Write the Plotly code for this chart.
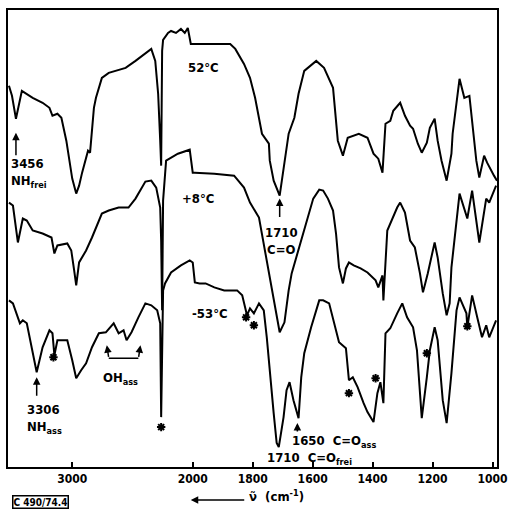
import numpy as np
import plotly.graph_objects as go

# ---------------- data (wavenumber in cm-1, transmission in arbitrary units) ----------------
wn_52 = [3525, 3500, 3467, 3443, 3418, 3328, 3246, 3189, 3164, 3123, 3090, 3049, 3025, 3000, 2967,
         2943, 2918, 2885, 2869, 2852, 2844, 2820, 2803, 2754, 2697, 2639, 2557, 2475, 2393, 2344,
         2311, 2287, 2270, 2262, 2254, 2246, 2205, 2180, 2139, 2098, 2066, 2041, 2016, 1984, 1928,
         1875, 1858, 1829, 1809, 1792, 1769, 1746, 1743, 1730, 1710, 1694, 1680, 1661, 1647, 1628,
         1588, 1562, 1532, 1516, 1499, 1483, 1463, 1446, 1417, 1397, 1381, 1367, 1357, 1341, 1331,
         1308, 1292, 1275, 1265, 1249, 1236, 1219, 1209, 1193, 1183, 1170, 1153, 1137, 1133, 1110,
         1094, 1077, 1054, 1044, 1028, 1018, 995, 985]
t_52 = [382, 372, 349, 362, 377, 370, 365, 360, 352, 354, 350, 327, 307, 289, 274,
        282, 295, 309, 317, 315, 327, 360, 370, 390, 395, 397, 400, 407, 415, 419,
        407, 374, 327, 302, 417, 428, 435, 437, 435, 439, 435, 440, 424, 424, 424,
        424, 419, 404, 390, 370, 334, 324, 307, 287, 272, 307, 334, 350, 374, 397,
        407, 400, 380, 327, 312, 330, 332, 334, 330, 314, 309, 295, 344, 347, 357,
        365, 352, 342, 339, 324, 315, 325, 340, 349, 327, 307, 287, 314, 334, 389,
        370, 372, 307, 290, 312, 305, 292, 287]

wn_8 = [3525, 3492, 3451, 3410, 3377, 3328, 3246, 3172, 3148, 3123, 3041, 3008, 2984, 2967, 2943,
        2885, 2836, 2803, 2754, 2697, 2615, 2533, 2475, 2393, 2344, 2303, 2270, 2262, 2254, 2246,
        2230, 2221, 2123, 2025, 2000, 1993, 1928, 1862, 1829, 1809, 1779, 1759, 1746, 1730, 1710,
        1694, 1680, 1670, 1638, 1614, 1598, 1578, 1565, 1549, 1532, 1522, 1512, 1499, 1489, 1479,
        1463, 1440, 1417, 1390, 1381, 1367, 1364, 1351, 1318, 1308, 1292, 1275, 1259, 1242, 1232,
        1216, 1193, 1183, 1166, 1153, 1143, 1137, 1110, 1084, 1068, 1044, 1021, 1011, 988]
t_8 = [265, 262, 225, 249, 247, 237, 234, 230, 214, 222, 224, 217, 197, 182, 205,
       217, 230, 240, 254, 257, 260, 260, 269, 286, 287, 280, 260, 227, 157, 267,
       300, 307, 314, 318, 295, 295, 294, 292, 280, 265, 250, 217, 194, 167, 135,
       145, 177, 194, 227, 254, 269, 278, 277, 269, 257, 234, 200, 184, 199, 205,
       202, 199, 195, 187, 180, 192, 167, 237, 260, 265, 255, 227, 220, 194, 175,
       194, 225, 210, 174, 152, 164, 200, 274, 249, 277, 225, 269, 265, 282]

wn_m53 = [3525, 3492, 3434, 3410, 3377, 3295, 3246, 3189, 3164, 3148, 3123, 3041, 3000, 2967, 2926,
          2885, 2836, 2779, 2721, 2656, 2615, 2574, 2549, 2508, 2451, 2393, 2344, 2295, 2270, 2262,
          2246, 2230, 2180, 2098, 2025, 2000, 1993, 1977, 1957, 1928, 1895, 1852, 1835, 1825, 1819,
          1809, 1796, 1779, 1763, 1753, 1743, 1730, 1720, 1713, 1697, 1687, 1677, 1664, 1647, 1638,
          1628, 1605, 1578, 1565, 1545, 1529, 1512, 1489, 1479, 1466, 1450, 1430, 1417, 1397, 1384,
          1374, 1364, 1357, 1341, 1318, 1301, 1285, 1265, 1252, 1242, 1236, 1219, 1209, 1193, 1183,
          1166, 1153, 1137, 1120, 1110, 1087, 1084, 1068, 1051, 1035, 1021, 1011, 988]
t_m53 = [167, 164, 144, 147, 144, 95, 120, 137, 134, 112, 127, 127, 107, 89, 97,
         104, 120, 134, 135, 144, 134, 137, 127, 135, 150, 164, 162, 157, 144, 50,
         177, 184, 195, 202, 207, 205, 185, 184, 184, 180, 177, 177, 172, 160, 152,
         159, 154, 164, 157, 130, 94, 54, 24, 20, 50, 77, 85, 67, 49, 90,
         114, 140, 167, 167, 164, 144, 125, 119, 87, 90, 80, 64, 55, 45, 74,
         85, 64, 134, 139, 154, 164, 150, 140, 117, 74, 49, 90, 117, 140, 127,
         67, 44, 94, 157, 170, 154, 140, 172, 150, 130, 142, 130, 147]

# bands marked with an asterisk in the -53 °C spectrum
star_wn = [3156, 2262, 1822, 1796, 1479, 1390, 1219, 1084]
star_t = [110, 40, 150, 142, 74, 89, 114, 141]

tick_wn = [3000, 2000, 1800, 1600, 1400, 1200, 1000]
tick_text = ["3000", "2000", "1800", "1600", "1400", "1200", "1000"]

# ---------------- axis transform (scale change at 2000 cm-1) ----------------
RATIO = 0.402


def xpos(wn):
    wn = np.asarray(wn, dtype=float)
    return np.where(wn >= 2000, (2000 - wn) * RATIO, 2000 - wn)


def xp(wn):
    return float(xpos(wn))


FONT = "DejaVu Sans Condensed, Liberation Sans Narrow, Arial Narrow, sans-serif"
LINE = dict(color="black", width=2)

fig = go.Figure()
for w, t in [(wn_52, t_52), (wn_8, t_8), (wn_m53, t_m53)]:
    fig.add_trace(go.Scatter(x=xpos(w), y=t, mode="lines", line=LINE, hoverinfo="skip"))

fig.add_trace(go.Scatter(x=xpos(star_wn), y=star_t, mode="markers",
                         marker=dict(symbol="asterisk-open", size=7, color="black",
                                     line=dict(color="black", width=2)),
                         hoverinfo="skip"))

ann = []


def text(x, y, s, xanchor="center", yanchor="middle", size=13, **kw):
    ann.append(dict(x=x, y=y, text=s, showarrow=False, xanchor=xanchor, yanchor=yanchor,
                    font=dict(family=FONT, size=size, color="black", weight="bold"), **kw))


def arrow(x, y, ax, ay):
    ann.append(dict(x=x, y=y, text="", showarrow=True, ax=ax, ay=ay, arrowhead=2,
                    arrowsize=1, arrowwidth=1.5, arrowcolor="black"))


text(xp(1964), 400, "52°C")
text(xp(1984), 269, "+8°C")
text(xp(1941), 154, "-53°C")

text(xp(3525), 314, "3456<br>NH<sub>frei</sub>", xanchor="left", yanchor="top", align="left")
arrow(xp(3467), 335, 0, 24)

text(xp(1703), 245, "1710<br>C=O", yanchor="top")
arrow(xp(1710), 269, 0, 20)

text(xp(3393), 67, "3306<br>NH<sub>ass</sub>", xanchor="left", yanchor="top", align="left")
arrow(xp(3295), 90, 0, 20)

text(xp(2762), 99, "OH<sub>ass</sub>", xanchor="left", yanchor="top")
arrow(xp(2713), 122, 2, 13)
arrow(xp(2434), 122, -2, 13)

text(xp(1677), 26, "1650  C=O<sub>ass</sub>", xanchor="left")
arrow(xp(1651), 44, 0, 10)
text(xp(1759), 9, "1710  C=O<sub>frei</sub>", xanchor="left")

# bottom labels (paper coordinates)
ann.append(dict(xref="paper", yref="paper", x=0.008, y=-0.0764, text="C 490/74.4",
                showarrow=False, xanchor="left", yanchor="middle",
                font=dict(family=FONT, size=10, color="black", weight="bold"),
                bordercolor="black", borderwidth=1.5, borderpad=0))
ann.append(dict(xref="paper", yref="paper", x=0.3737, y=-0.072, text="", showarrow=True,
                ax=55, ay=0, arrowhead=2, arrowsize=1, arrowwidth=1.5, arrowcolor="black"))
ann.append(dict(xref="paper", yref="paper", x=0.489, y=-0.063, text="ν̃  (cm<sup>-1</sup>)",
                showarrow=False, xanchor="left", yanchor="middle",
                font=dict(family=FONT, size=13, color="black", weight="bold")))

fig.update_layout(
    width=515, height=516,
    margin=dict(l=8, r=12, t=9, b=49),
    paper_bgcolor="white", plot_bgcolor="white",
    showlegend=False,
    annotations=ann,
    shapes=[dict(type="line", xref="x", yref="y", x0=xp(2697), x1=xp(2451), y0=109, y1=109,
                 line=dict(color="black", width=1.5))],
)
fig.update_xaxes(range=[xp(3533), xp(985)], tickvals=[xp(v) for v in tick_wn], ticktext=tick_text,
                 ticks="inside", ticklen=5, tickwidth=1.5, tickcolor="black",
                 showgrid=False, zeroline=False, showline=True, mirror=True,
                 linecolor="black", linewidth=2, ticklabeloverflow="allow",
                 tickfont=dict(family=FONT, size=12, color="black", weight="bold"))
fig.update_yaxes(range=[0, 458], showticklabels=False, ticks="", showgrid=False, zeroline=False,
                 showline=True, mirror=True, linecolor="black", linewidth=2)

fig.write_html("out.html", config={"displayModeBar": False},
               post_script="document.body.style.margin='0';")
